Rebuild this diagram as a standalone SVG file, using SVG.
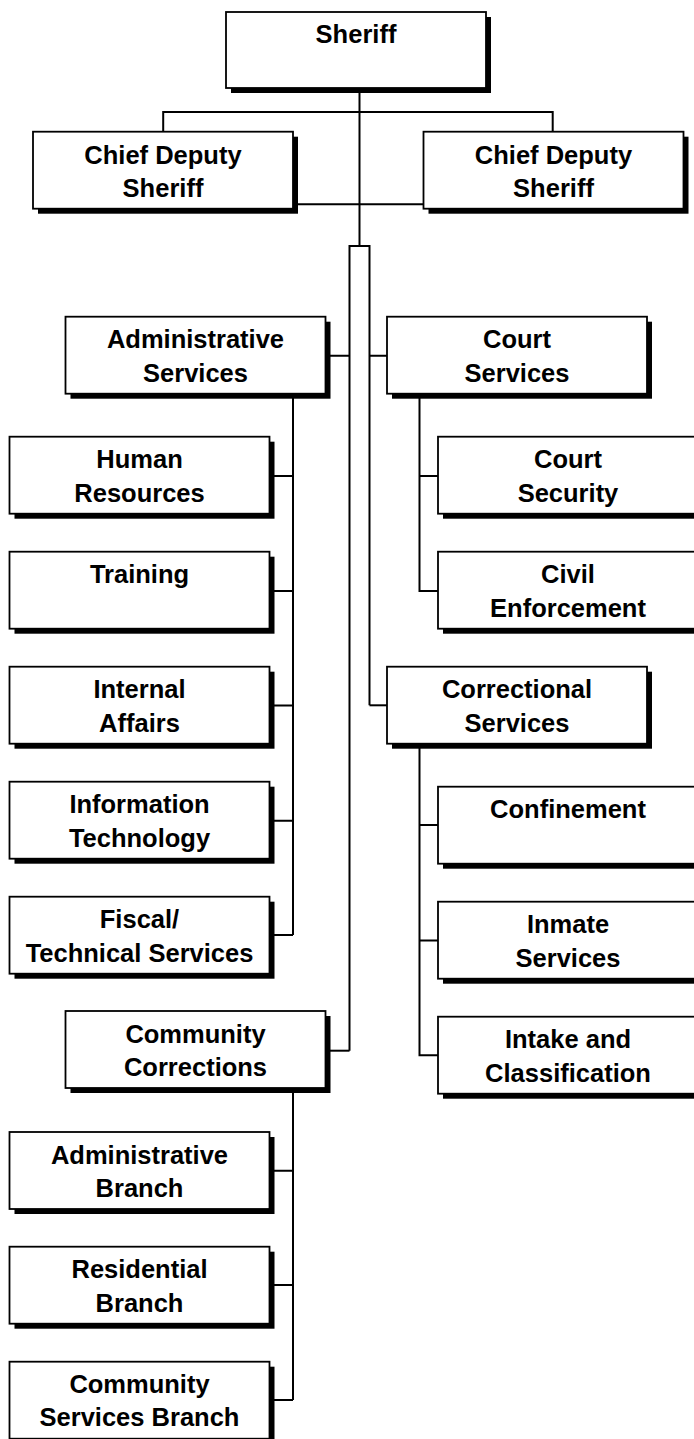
<svg xmlns="http://www.w3.org/2000/svg" width="694" height="1439" viewBox="0 0 694 1439">
<style>
.sh{fill:#000}
.bx{fill:#fff;stroke:#000;stroke-width:1.8}
.c{fill:none;stroke:#000;stroke-width:2}
text{font-family:"Liberation Sans",Arial,sans-serif;font-weight:bold;font-size:25.5px;fill:#000;text-anchor:middle}
</style>
<rect width="694" height="1439" fill="#fff"/>
<g id="connectors">
<path class="c" d="M359.5 88V246"/>
<path class="c" d="M163.2 131.7V112H552.7V131.7"/>
<path class="c" d="M293 204.3H423.5"/>
<path class="c" d="M349.5 1050.7V246H369.5V705.3"/>
<path class="c" d="M328 355.7H349.5M369.5 355.7H387"/>
<path class="c" d="M369.5 705.3H387"/>
<path class="c" d="M328 1050.7H349.5"/>
<path class="c" d="M293 394V935M270 476H293M270 591H293M270 705.5H293M270 820.7H293M270 935H293"/>
<path class="c" d="M419.5 394V591H438M419.5 476H438"/>
<path class="c" d="M419.5 744V1055.3H438M419.5 825H438M419.5 940.5H438"/>
<path class="c" d="M293 1088V1400M270 1170.7H293M270 1285H293M270 1400H293"/>
</g>
<g id="sheriff"><rect class="sh" x="231" y="17" width="260" height="76"/><rect class="bx" x="226" y="12" width="260" height="76"/><text x="356" y="43">Sheriff</text></g>
<g id="chief-deputy-left"><rect class="sh" x="38" y="136.7" width="260" height="77"/><rect class="bx" x="33" y="131.7" width="260" height="77"/><text x="163" y="164.3">Chief Deputy</text><text x="163" y="197.3">Sheriff</text></g>
<g id="chief-deputy-right"><rect class="sh" x="428.5" y="136.7" width="260" height="77"/><rect class="bx" x="423.5" y="131.7" width="260" height="77"/><text x="553.5" y="164.3">Chief Deputy</text><text x="553.5" y="197.3">Sheriff</text></g>
<g id="administrative-services"><rect class="sh" x="70.5" y="321.7" width="260" height="77"/><rect class="bx" x="65.5" y="316.7" width="260" height="77"/><text x="195.5" y="348.2">Administrative</text><text x="195.5" y="381.7">Services</text></g>
<g id="court-services"><rect class="sh" x="392" y="321.7" width="260" height="77"/><rect class="bx" x="387" y="316.7" width="260" height="77"/><text x="517" y="348.2">Court</text><text x="517" y="381.7">Services</text></g>
<g id="human-resources"><rect class="sh" x="14.5" y="441.7" width="260" height="77"/><rect class="bx" x="9.5" y="436.7" width="260" height="77"/><text x="139.5" y="468.2">Human</text><text x="139.5" y="501.7">Resources</text></g>
<g id="training"><rect class="sh" x="14.5" y="556.7" width="260" height="77"/><rect class="bx" x="9.5" y="551.7" width="260" height="77"/><text x="139.5" y="583.2">Training</text></g>
<g id="internal-affairs"><rect class="sh" x="14.5" y="671.7" width="260" height="77"/><rect class="bx" x="9.5" y="666.7" width="260" height="77"/><text x="139.5" y="698.2">Internal</text><text x="139.5" y="731.7">Affairs</text></g>
<g id="information-technology"><rect class="sh" x="14.5" y="786.7" width="260" height="77"/><rect class="bx" x="9.5" y="781.7" width="260" height="77"/><text x="139.5" y="813.2">Information</text><text x="139.5" y="846.7">Technology</text></g>
<g id="fiscal-technical-services"><rect class="sh" x="14.5" y="901.7" width="260" height="77"/><rect class="bx" x="9.5" y="896.7" width="260" height="77"/><text x="139.5" y="928.2">Fiscal/</text><text x="139.5" y="961.7">Technical Services</text></g>
<g id="community-corrections"><rect class="sh" x="70.5" y="1016" width="260" height="77"/><rect class="bx" x="65.5" y="1011" width="260" height="77"/><text x="195.5" y="1042.5">Community</text><text x="195.5" y="1076">Corrections</text></g>
<g id="administrative-branch"><rect class="sh" x="14.5" y="1137" width="260" height="77"/><rect class="bx" x="9.5" y="1132" width="260" height="77"/><text x="139.5" y="1163.5">Administrative</text><text x="139.5" y="1197">Branch</text></g>
<g id="residential-branch"><rect class="sh" x="14.5" y="1251.7" width="260" height="77"/><rect class="bx" x="9.5" y="1246.7" width="260" height="77"/><text x="139.5" y="1278.2">Residential</text><text x="139.5" y="1311.7">Branch</text></g>
<g id="community-services-branch"><rect class="sh" x="14.5" y="1366.7" width="260" height="77"/><rect class="bx" x="9.5" y="1361.7" width="260" height="77"/><text x="139.5" y="1392.5">Community</text><text x="139.5" y="1425.5">Services Branch</text></g>
<g id="court-security"><rect class="sh" x="443" y="441.7" width="260" height="77"/><rect class="bx" x="438" y="436.7" width="260" height="77"/><text x="568" y="468.2">Court</text><text x="568" y="501.7">Security</text></g>
<g id="civil-enforcement"><rect class="sh" x="443" y="556.7" width="260" height="77"/><rect class="bx" x="438" y="551.7" width="260" height="77"/><text x="568" y="583.2">Civil</text><text x="568" y="616.7">Enforcement</text></g>
<g id="correctional-services"><rect class="sh" x="392" y="671.7" width="260" height="77"/><rect class="bx" x="387" y="666.7" width="260" height="77"/><text x="517" y="698.2">Correctional</text><text x="517" y="731.7">Services</text></g>
<g id="confinement"><rect class="sh" x="443" y="791.7" width="260" height="77"/><rect class="bx" x="438" y="786.7" width="260" height="77"/><text x="568" y="818.2">Confinement</text></g>
<g id="inmate-services"><rect class="sh" x="443" y="906.7" width="260" height="77"/><rect class="bx" x="438" y="901.7" width="260" height="77"/><text x="568" y="933.2">Inmate</text><text x="568" y="966.7">Services</text></g>
<g id="intake-and-classification"><rect class="sh" x="443" y="1021.7" width="260" height="77"/><rect class="bx" x="438" y="1016.7" width="260" height="77"/><text x="568" y="1048.2">Intake and</text><text x="568" y="1081.7">Classification</text></g>
</svg>
